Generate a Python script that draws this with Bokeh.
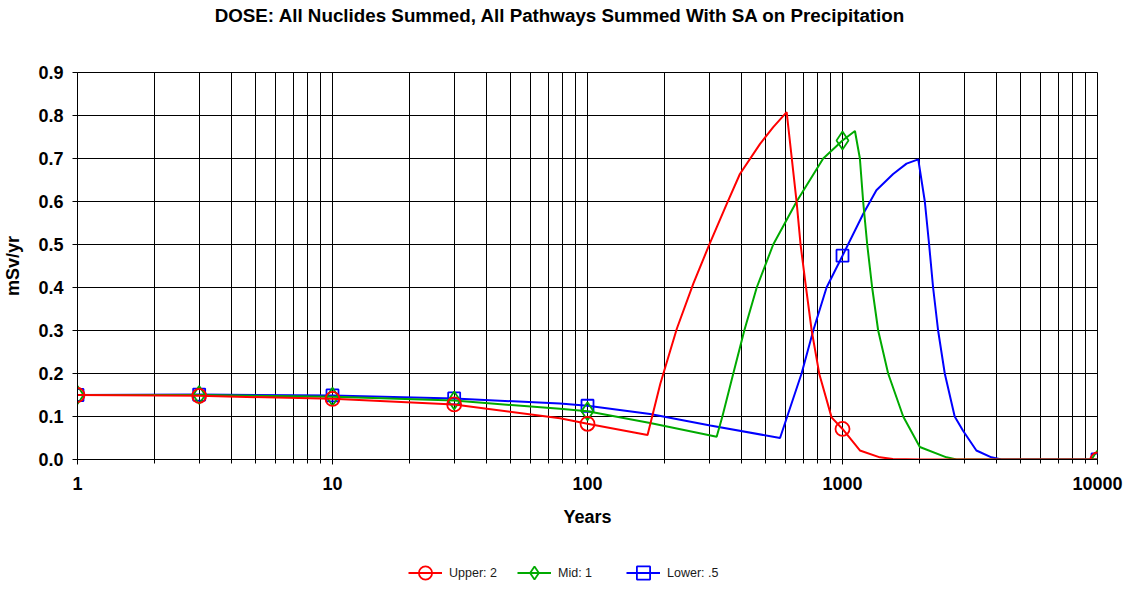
from bokeh.plotting import figure
from bokeh.models import FixedTicker, Range1d, Legend, LegendItem, Label
from bokeh.layouts import column
from bokeh.embed import file_html
from bokeh.resources import INLINE

title_text = "DOSE: All Nuclides Summed, All Pathways Summed With SA on Precipitation"
x_label = "Years"
y_label = "mSv/yr"
x_ticks = [1, 10, 100, 1000, 10000]
x_tick_labels = ["1", "10", "100", "1000", "10000"]
y_ticks = [0.0, 0.1, 0.2, 0.3, 0.4, 0.5, 0.6, 0.7, 0.8, 0.9]
y_tick_labels = ["0.0", "0.1", "0.2", "0.3", "0.4", "0.5", "0.6", "0.7", "0.8", "0.9"]
series_names = ["Upper: 2", "Mid: 1", "Lower: .5"]

upper_x = [1, 3, 10, 30, 78, 100, 172, 193, 224, 260, 300, 352, 396, 475, 535, 604,
           661, 685, 719, 757, 811, 906, 1000, 1170, 1401, 1575, 2000, 10000]
upper_y = [0.150, 0.148, 0.141, 0.128, 0.096, 0.083, 0.057, 0.176, 0.304, 0.409, 0.499, 0.595, 0.664, 0.734, 0.773, 0.808,
           0.598, 0.499, 0.401, 0.300, 0.199, 0.098, 0.071, 0.021, 0.005, 0.001, 0.0, 0.0]

mid_x = [1, 3, 10, 30, 78, 100, 176, 321, 338, 373, 412, 461, 535, 661, 840, 1000, 1119,
         1170, 1205, 1250, 1307, 1380, 1510, 1730, 2010, 2558, 2800, 10000]
mid_y = [0.150, 0.150, 0.146, 0.137, 0.118, 0.112, 0.085, 0.053, 0.100, 0.200, 0.300, 0.400, 0.500, 0.600, 0.700, 0.742, 0.764,
         0.700, 0.600, 0.500, 0.400, 0.300, 0.200, 0.100, 0.029, 0.005, 0.0, 0.0]

lower_x = [1, 3, 10, 30, 78, 100, 176, 303, 569, 607, 691, 768, 866, 1000, 1205, 1358, 1580, 1783, 1982,
           2103, 2186, 2266, 2371, 2518, 2754, 2970, 3350, 3838, 4200, 10000]
lower_y = [0.150, 0.151, 0.149, 0.142, 0.130, 0.125, 0.106, 0.079, 0.050, 0.100, 0.200, 0.300, 0.400, 0.474, 0.571, 0.626, 0.664, 0.688, 0.698,
           0.600, 0.500, 0.400, 0.300, 0.200, 0.100, 0.067, 0.021, 0.005, 0.0, 0.0]

marker_x = [1, 3, 10, 30, 100, 1000, 10000]
upper_marker_y = [0.150, 0.148, 0.141, 0.128, 0.083, 0.071, 0.0]
mid_marker_y = [0.150, 0.150, 0.146, 0.137, 0.112, 0.742, 0.0]
lower_marker_y = [0.150, 0.151, 0.149, 0.142, 0.125, 0.474, 0.0]

FONT = "Liberation Sans"
W = 1125
HEAD_H = 60
LEG_H = 44
MAIN_H = 589 - HEAD_H - LEG_H
FRAME_LEFT = 77      # frames of the stacked figures are aligned by the column
FRAME_W = 1020

colors = ["#ff0000", "#00aa00", "#0000ff"]
markers = ["circle", "diamond", "square"]
msizes = [14, 18, 12]


def blank_fig(h):
    f = figure(width=W, height=h, x_range=Range1d(0, FRAME_W), y_range=Range1d(0, h),
               x_axis_location=None, y_axis_location=None, min_border=0,
               output_backend="svg", toolbar_location=None, tools="")
    f.grid.visible = False
    f.outline_line_color = None
    return f


# ---- header with the title ----
head = blank_fig(HEAD_H)
head.add_layout(Label(x=560 - FRAME_LEFT, y=HEAD_H - 15, text=title_text, text_font=FONT,
                      text_font_size="18.8px", text_font_style="bold", text_color="#000000",
                      text_align="center", text_baseline="middle"))

# ---- main chart ----
p = figure(x_axis_type="log", x_range=Range1d(1, 10000), y_range=Range1d(0, 0.9),
           width=W, height=MAIN_H,
           min_border_left=FRAME_LEFT, min_border_right=W - FRAME_LEFT - FRAME_W,
           min_border_top=12, min_border_bottom=86,
           output_backend="svg", toolbar_location=None, tools="")

p.outline_line_color = "#000000"
p.outline_line_width = 1

xt = FixedTicker(ticks=x_ticks,
                 minor_ticks=[m * d for d in [1, 10, 100, 1000] for m in range(2, 10)])
p.xaxis.ticker = xt
p.xaxis.major_label_overrides = {t: s for t, s in zip(x_ticks, x_tick_labels)}
p.xaxis.axis_label = x_label
p.yaxis.ticker = FixedTicker(ticks=y_ticks)
p.yaxis.major_label_overrides = {t: s for t, s in zip(y_ticks, y_tick_labels)}
p.yaxis.axis_label = y_label

for ax in (p.xaxis, p.yaxis):
    ax.axis_line_color = "#000000"
    ax.major_tick_line_color = "#000000"
    ax.minor_tick_line_color = "#000000"
    ax.major_tick_in = 0
    ax.major_tick_out = 5
    ax.minor_tick_in = 0
    ax.minor_tick_out = 4
    ax.major_label_text_font = FONT
    ax.major_label_text_font_size = "18px"
    ax.major_label_text_font_style = "bold"
    ax.major_label_text_color = "#000000"
    ax.axis_label_text_font = FONT
    ax.axis_label_text_font_size = "18px"
    ax.axis_label_text_font_style = "bold"
    ax.axis_label_text_color = "#000000"
p.yaxis.minor_tick_line_color = None
p.xaxis.major_label_standoff = 12
p.xaxis.axis_label_standoff = 14
p.yaxis.major_label_standoff = 9
p.yaxis.axis_label_standoff = 12

p.xgrid.ticker = xt
p.xgrid.grid_line_color = "#000000"
p.xgrid.minor_grid_line_color = "#000000"
p.ygrid.grid_line_color = "#000000"

lines_data = [(upper_x, upper_y, upper_marker_y), (mid_x, mid_y, mid_marker_y), (lower_x, lower_y, lower_marker_y)]
for i in [2, 1, 0]:
    lx, ly, my = lines_data[i]
    p.line(x=lx, y=ly, line_color=colors[i], line_width=2)
    p.scatter(x=marker_x, y=my, marker=markers[i], size=msizes[i],
              line_color=colors[i], line_width=1.8, fill_color=None)

# ---- legend strip (its renderers hold one point placed outside the visible range) ----
leg = blank_fig(LEG_H)
items = []
for i in range(3):
    lr = leg.line(x=[-500, -400], y=[-500, -500], line_color=colors[i], line_width=2)
    sr = leg.scatter(x=[-500], y=[-500], marker=markers[i], size=msizes[i],
                     line_color=colors[i], line_width=1.8, fill_color=None)
    items.append(LegendItem(label=series_names[i], renderers=[lr, sr]))
legend = Legend(items=items, location=(408 - FRAME_LEFT, 0), orientation="horizontal",
                glyph_width=34, glyph_height=33, label_width=58, spacing=10, label_standoff=7,
                padding=0, margin=0, border_line_color=None, background_fill_alpha=0,
                label_text_font=FONT, label_text_font_size="12.5px", label_text_color="#1a1a1a")
leg.add_layout(legend)

layout = column(head, p, leg, spacing=0)
open("out.html", "w").write(file_html(layout, INLINE))
